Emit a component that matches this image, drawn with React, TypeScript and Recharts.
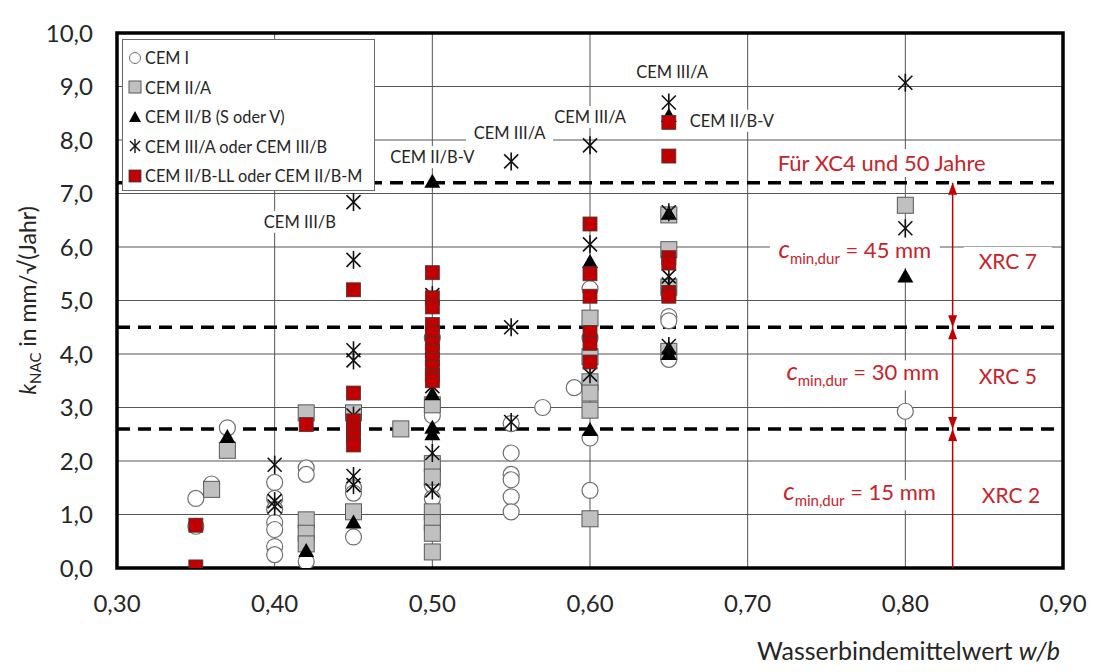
import React from "react"
import { ScatterChart, Scatter, XAxis, YAxis, CartesianGrid, ReferenceArea, Legend } from "recharts"

type Pt = { x: number; y: number }

// axis ticks
const xTicks = [0.3, 0.4, 0.5, 0.6, 0.7, 0.8, 0.9]
const yTicks = [0, 1, 2, 3, 4, 5, 6, 7, 8, 9, 10]

// one column of measurements at a given w/b value
const col = (x: number, ys: number[]): Pt[] => ys.map((y) => ({ x, y }))

const cemI: Pt[] = [
  ...col(0.35, [1.3, 0.78]),
  ...col(0.36, [1.57]),
  ...col(0.37, [2.62]),
  ...col(0.4, [1.6, 1.3, 1.1, 0.85, 0.72, 0.4, 0.25]),
  ...col(0.42, [1.87, 1.75, 0.12]),
  ...col(0.45, [1.5, 1.4, 0.58]),
  ...col(0.5, [4.3, 3.0, 2.85, 1.55, 1.3]),
  ...col(0.55, [2.7, 2.15, 1.75, 1.65, 1.33, 1.05]),
  ...col(0.57, [3.0]),
  ...col(0.59, [3.37]),
  ...col(0.6, [5.22, 4.3, 2.43, 1.45]),
  ...col(0.65, [4.7, 4.62, 3.9]),
  ...col(0.8, [2.93]),
]

const cemIIA: Pt[] = [
  ...col(0.36, [1.47]),
  ...col(0.37, [2.2]),
  ...col(0.42, [2.9, 0.9, 0.65, 0.45]),
  ...col(0.45, [2.9, 1.05]),
  ...col(0.48, [2.6]),
  ...col(0.5, [3.05, 1.95, 1.7, 1.05, 0.85, 0.65, 0.3]),
  ...col(0.6, [4.67, 3.95, 3.48, 3.27, 2.95, 0.92]),
  ...col(0.65, [6.6, 5.95, 5.25, 4.05]),
  ...col(0.8, [6.78]),
]

const cemIIB: Pt[] = [
  ...col(0.37, [2.45]),
  ...col(0.42, [0.32]),
  ...col(0.45, [0.85]),
  ...col(0.5, [7.22, 3.25, 2.62, 2.5]),
  ...col(0.6, [5.72, 2.58]),
  ...col(0.65, [8.45, 6.62, 4.1, 4.0]),
  ...col(0.8, [5.45]),
]

const cemIII: Pt[] = [
  ...col(0.4, [1.93, 1.25, 1.15]),
  ...col(0.45, [6.84, 5.76, 4.07, 3.88, 2.85, 2.5, 1.72, 1.55]),
  ...col(0.5, [5.1, 3.4, 2.15, 1.45]),
  ...col(0.55, [7.6, 4.5, 2.73]),
  ...col(0.6, [7.9, 6.05, 3.62]),
  ...col(0.65, [8.7, 6.65, 5.45, 5.3, 4.15]),
  ...col(0.8, [9.07, 6.35]),
]

const cemIIBLL: Pt[] = [
  ...col(0.35, [0.8, 0.02]),
  ...col(0.42, [2.68]),
  ...col(0.45, [5.2, 3.27, 2.75, 2.6, 2.45, 2.3]),
  ...col(0.5, [5.52, 5.05, 4.88, 4.55, 4.4, 4.2, 4.05, 3.9, 3.75, 3.6, 3.5]),
  ...col(0.6, [6.43, 5.5, 5.08, 4.4, 4.2, 3.85]),
  ...col(0.65, [8.33, 7.7, 5.8, 5.7, 5.15, 5.08]),
]

const legendNames = [
  "CEM I",
  "CEM II/A",
  "CEM II/B (S oder V)",
  "CEM III/A oder CEM III/B",
  "CEM II/B-LL oder CEM II/B-M",
]

// limits of the exposure classes
const limitValues = [7.2, 4.5, 2.6]
const arrowX = 0.83
const arrowLine: Pt[] = [
  { x: arrowX, y: 0 },
  { x: arrowX, y: 7.2 },
]
const arrowUp: Pt[] = col(arrowX, [7.2, 4.5, 2.6])
const arrowDown: Pt[] = col(arrowX, [4.5, 2.6])

const cementLabels = [
  { x: 0.416, y: 6.47, text: "CEM III/B" },
  { x: 0.5, y: 7.68, text: "CEM II/B-V" },
  { x: 0.549, y: 8.13, text: "CEM III/A" },
  { x: 0.6, y: 8.43, text: "CEM III/A" },
  { x: 0.652, y: 9.27, text: "CEM III/A" },
  { x: 0.69, y: 8.36, text: "CEM II/B-V" },
]
const titleLabels = [{ x: 0.785, y: 7.57, text: "Für XC4 und 50 Jahre" }]
const coverLabels = [
  { x: 0.768, y: 5.89, text: "45" },
  { x: 0.773, y: 3.6, text: "30" },
  { x: 0.771, y: 1.36, text: "15" },
]
const classLabels = [
  { x: 0.865, y: 5.72, text: "XRC 7" },
  { x: 0.865, y: 3.57, text: "XRC 5" },
  { x: 0.867, y: 1.36, text: "XRC 2" },
]

const RED = "#c00000"
const RED_TEXT = "#c8232c"
const FONT = "Lato, 'Open Sans', sans-serif"

const CircleMark = ({ cx, cy }: any) => <circle cx={cx} cy={cy} r={8} fill="#fff" stroke="#6e6e6e" strokeWidth={1.2} />
const GreySquare = ({ cx, cy }: any) => (
  <rect x={cx - 8} y={cy - 8} width={16} height={16} fill="#c0c0c0" stroke="#595959" strokeWidth={1} />
)
const TriangleMark = ({ cx, cy }: any) => (
  <path d={`M${cx},${cy - 8} L${cx + 8},${cy + 6} L${cx - 8},${cy + 6} Z`} fill="#000" />
)
const AsteriskMark = ({ cx, cy }: any) => (
  <g stroke="#111" strokeWidth={1.6}>
    <line x1={cx - 7} y1={cy - 7} x2={cx + 7} y2={cy + 7} />
    <line x1={cx - 7} y1={cy + 7} x2={cx + 7} y2={cy - 7} />
    <line x1={cx} y1={cy - 9} x2={cx} y2={cy + 9} />
  </g>
)
const RedSquare = ({ cx, cy }: any) => (
  <rect x={cx - 7} y={cy - 7} width={14} height={14} fill={RED} stroke="#3a3a3a" strokeWidth={0.8} />
)
const NoMark = () => <g />

const ArrowHeadUp = ({ cx, cy }: any) => <path d={`M${cx},${cy} L${cx + 4.5},${cy + 12} L${cx - 4.5},${cy + 12} Z`} fill={RED} />
const ArrowHeadDown = ({ cx, cy }: any) => <path d={`M${cx},${cy} L${cx + 4.5},${cy - 12} L${cx - 4.5},${cy - 12} Z`} fill={RED} />

const CementLabel = ({ cx, cy, payload }: any) => {
  const w = payload.text.length * 9 + 6
  return (
    <g>
      <rect x={cx - w / 2} y={cy - 11} width={w} height={22} fill="#fff" />
      <text x={cx} y={cy} dy="0.35em" textAnchor="middle" fontSize={16.5} fill="#262626" fontFamily={FONT}>
        {payload.text}
      </text>
    </g>
  )
}
const TitleLabel = ({ cx, cy, payload }: any) => (
  <g>
    <rect x={cx - 115} y={cy - 14} width={230} height={28} fill="#fff" />
    <text x={cx} y={cy} dy="0.35em" textAnchor="middle" fontSize={22} fill={RED_TEXT} fontFamily={FONT}>
      {payload.text}
    </text>
  </g>
)
const CoverLabel = ({ cx, cy, payload }: any) => (
  <g>
    <rect x={cx - 85} y={cy - 15} width={170} height={30} fill="#fff" />
    <text x={cx} y={cy} dy="0.3em" textAnchor="middle" fill={RED_TEXT} fontFamily={FONT}>
      <tspan fontSize={25} fontStyle="italic">c</tspan>
      <tspan fontSize={15} dy={6}>min,dur</tspan>
      <tspan fontSize={22} dy={-6}>{` = ${payload.text} mm`}</tspan>
    </text>
  </g>
)
const ClassLabel = ({ cx, cy, payload }: any) => (
  <g>
    <rect x={cx - 44} y={cy - 15} width={88} height={30} fill="#fff" />
    <text x={cx} y={cy} dy="0.35em" textAnchor="middle" fontSize={21} fill={RED_TEXT} fontFamily={FONT}>
      {payload.text}
    </text>
  </g>
)

const legendIcons = [
  <circle cx={7} cy={7} r={5.5} fill="#fff" stroke="#6e6e6e" strokeWidth={1} />,
  <rect x={1} y={1} width={12} height={12} fill="#c0c0c0" stroke="#595959" />,
  <path d="M7,1 L13,12 L1,12 Z" fill="#000" />,
  <g stroke="#111" strokeWidth={1.4}>
    <line x1={2} y1={2} x2={12} y2={12} />
    <line x1={2} y1={12} x2={12} y2={2} />
    <line x1={7} y1={0} x2={7} y2={14} />
  </g>,
  <rect x={1} y={1} width={12} height={12} fill={RED} stroke="#3a3a3a" strokeWidth={0.8} />,
]

const renderLegend = () => (
  <div
    style={{
      width: 253,
      height: 152,
      boxSizing: "border-box",
      border: "1px solid #6a6a6a",
      background: "#fff",
      padding: "3px 0 0 5px",
      fontFamily: FONT,
      fontSize: 16.3,
      color: "#262626",
      whiteSpace: "nowrap",
    }}
  >
    {legendNames.map((name, i) => (
      <div key={name} style={{ display: "flex", alignItems: "center", height: 29.5 }}>
        <svg width={14} height={14} style={{ marginRight: 3 }}>
          {legendIcons[i]}
        </svg>
        <span>{name}</span>
      </div>
    ))}
  </div>
)

const fmtX = (v: number) => v.toFixed(2).replace(".", ",")
const fmtY = (v: number) => v.toFixed(1).replace(".", ",")

const YLabel = (props: any) => {
  const vb = props.viewBox
  const cx = vb.x - 9
  const cy = vb.y + vb.height / 2
  return (
    <text
      x={cx}
      y={cy}
      dy="0.35em"
      textAnchor="middle"
      transform={`rotate(-90, ${cx}, ${cy})`}
      fill="#262626"
      fontFamily={FONT}
      fontSize={23}
    >
      <tspan fontStyle="italic">k</tspan>
      <tspan fontSize={15} dy={5}>NAC</tspan>
      <tspan dy={-5}> in mm/√(Jahr)</tspan>
    </text>
  )
}

const XLabel = (props: any) => {
  const vb = props.viewBox
  return (
    <text x={vb.x + vb.width - 3} y={vb.y + 92} textAnchor="end" fill="#262626" fontFamily={FONT} fontSize={25}>
      Wasserbindemittelwert <tspan fontStyle="italic">w/b</tspan>
    </text>
  )
}

export default function App() {
  return (
    <div style={{ position: "absolute", left: 0, top: 0, width: 1094, height: 672, background: "#fff" }}>
      <ScatterChart width={1094} height={672} margin={{ top: 33, right: 31, bottom: 44, left: 37 }}>
        <CartesianGrid stroke="#555" strokeWidth={1} />
        <XAxis
          type="number"
          dataKey="x"
          domain={[0.3, 0.9]}
          ticks={xTicks}
          tickFormatter={fmtX}
          axisLine={false}
          tickLine={false}
          tickSize={0}
          tickMargin={27}
          height={60}
          tick={{ fontSize: 24, fill: "#262626", fontFamily: FONT }}
          label={{ content: XLabel }}
          allowDataOverflow
        />
        <YAxis
          type="number"
          dataKey="y"
          domain={[0, 10]}
          ticks={yTicks}
          tickFormatter={fmtY}
          axisLine={false}
          tickLine={false}
          tickSize={0}
          tickMargin={24}
          width={80}
          tick={{ fontSize: 24, fill: "#262626", fontFamily: FONT }}
          label={{ content: YLabel }}
          allowDataOverflow
        />
        {limitValues.map((v) => (
          <Scatter
            key={`lim${v}`}
            data={[
              { x: 0.3, y: v },
              { x: 0.9, y: v },
            ]}
            line={{ stroke: "#000", strokeWidth: 3.5, strokeDasharray: "13 8" }}
            shape={NoMark}
            legendType="none"
            isAnimationActive={false}
          />
        ))}
        <Scatter data={arrowLine} line={{ stroke: RED, strokeWidth: 1.5 }} shape={NoMark} legendType="none" isAnimationActive={false} />
        <Scatter data={arrowUp} shape={ArrowHeadUp} legendType="none" isAnimationActive={false} />
        <Scatter data={arrowDown} shape={ArrowHeadDown} legendType="none" isAnimationActive={false} />
        <Scatter data={cementLabels} shape={CementLabel} legendType="none" isAnimationActive={false} />
        <Scatter data={titleLabels} shape={TitleLabel} legendType="none" isAnimationActive={false} />
        <Scatter data={coverLabels} shape={CoverLabel} legendType="none" isAnimationActive={false} />
        <Scatter data={classLabels} shape={ClassLabel} legendType="none" isAnimationActive={false} />
        <Scatter name={legendNames[0]} data={cemI} shape={CircleMark} isAnimationActive={false} />
        <Scatter name={legendNames[1]} data={cemIIA} shape={GreySquare} isAnimationActive={false} />
        <Scatter name={legendNames[2]} data={cemIIB} shape={TriangleMark} isAnimationActive={false} />
        <Scatter name={legendNames[3]} data={cemIII} shape={AsteriskMark} isAnimationActive={false} />
        <Scatter name={legendNames[4]} data={cemIIBLL} shape={RedSquare} isAnimationActive={false} />
        <ReferenceArea x1={0.3} x2={0.9} y1={0} y2={10} fill="none" stroke="#000" strokeWidth={3.5} ifOverflow="visible" />
        <Legend
          layout="vertical"
          align="center"
          verticalAlign="middle"
          content={renderLegend}
          wrapperStyle={{ left: 122, top: 39, width: 253, height: 152 }}
        />
      </ScatterChart>
    </div>
  )
}
